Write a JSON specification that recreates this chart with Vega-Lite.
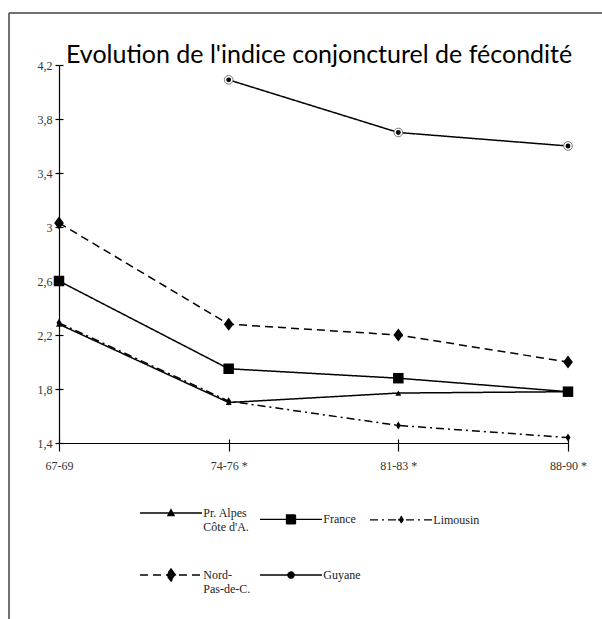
{
  "$schema": "https://vega.github.io/schema/vega-lite/v6.json",
  "width": 593,
  "height": 606,
  "autosize": {"type": "none"},
  "padding": {"left": 9, "top": 13, "right": 0, "bottom": 0},
  "background": "white",
  "config": {
    "view": {"stroke": "#444", "strokeWidth": 1.5, "strokeDash": [593, 1199, 606, 0]},
    "axis": {"grid": false, "title": null, "labelFont": "Liberation Serif", "labelFontSize": 12, "labelColor": "#333", "domainColor": "#000", "tickColor": "#000", "domainWidth": 1.2, "tickWidth": 1.2}
  },
  "title": {"text": "Evolution de l'indice conjoncturel de fécondité", "anchor": "start", "frame": "group", "orient": "top", "offset": -75, "baseline": "alphabetic", "dx": 57, "font": "Lato", "fontSize": 25, "fontWeight": "normal", "color": "#000"},
  "data": {"values": [
    {"p": "67-69", "r": "Pr. Alpes|Côte d'A.", "v": 2.28},
    {"p": "74-76 *", "r": "Pr. Alpes|Côte d'A.", "v": 1.70},
    {"p": "81-83 *", "r": "Pr. Alpes|Côte d'A.", "v": 1.77},
    {"p": "88-90 *", "r": "Pr. Alpes|Côte d'A.", "v": 1.78},
    {"p": "67-69", "r": "France", "v": 2.60},
    {"p": "74-76 *", "r": "France", "v": 1.95},
    {"p": "81-83 *", "r": "France", "v": 1.88},
    {"p": "88-90 *", "r": "France", "v": 1.78},
    {"p": "67-69", "r": "Limousin", "v": 2.29},
    {"p": "74-76 *", "r": "Limousin", "v": 1.71},
    {"p": "81-83 *", "r": "Limousin", "v": 1.53},
    {"p": "88-90 *", "r": "Limousin", "v": 1.44},
    {"p": "67-69", "r": "Nord-|Pas-de-C.", "v": 3.03},
    {"p": "74-76 *", "r": "Nord-|Pas-de-C.", "v": 2.28},
    {"p": "81-83 *", "r": "Nord-|Pas-de-C.", "v": 2.20},
    {"p": "88-90 *", "r": "Nord-|Pas-de-C.", "v": 2.00},
    {"p": "74-76 *", "r": "Guyane", "v": 4.09},
    {"p": "81-83 *", "r": "Guyane", "v": 3.70},
    {"p": "88-90 *", "r": "Guyane", "v": 3.60}
  ]},
  "resolve": {"axis": {"x": "independent", "y": "independent"}},
  "layer": [
    {
      "mark": {"type": "line", "color": "#000", "strokeWidth": 1.5},
      "encoding": {
        "x": {"field": "p", "type": "ordinal", "sort": null,
              "scale": {"type": "point", "domain": ["67-69", "74-76 *", "81-83 *", "88-90 *"], "range": [50, 559], "padding": 0},
              "axis": {"orient": "bottom", "offset": -176, "tickSize": 8, "labelPadding": 9, "labelAngle": 0}},
        "y": {"field": "v", "type": "quantitative",
              "scale": {"domain": [1.4, 4.2], "range": [430, 52], "zero": false, "nice": false},
              "axis": {"orient": "left", "offset": -50, "tickSize": 4, "labelPadding": 3, "values": [1.4, 1.8, 2.2, 2.6, 3, 3.4, 3.8, 4.2], "labelExpr": "replace(format(datum.value, '.1~f'), '.', ',')"}},
        "detail": {"field": "r"},
        "strokeDash": {"field": "r", "type": "nominal",
              "scale": {"domain": ["Pr. Alpes|Côte d'A.", "France", "Limousin", "Nord-|Pas-de-C.", "Guyane"], "range": [[1, 0], [1, 0], [8, 4, 2, 4], [8, 5], [1, 0]]}}
      }
    },
    {
      "transform": [{"filter": "datum.r == \"Pr. Alpes|Côte d'A.\""}],
      "mark": {"type": "point", "shape": "triangle-up", "size": 36, "filled": true, "color": "#000", "opacity": 1},
      "encoding": {
        "x": {"field": "p", "type": "ordinal", "axis": {"orient": "top", "offset": -430, "tickSize": 4, "labels": false, "domain": false}},
        "y": {"field": "v", "type": "quantitative", "axis": {"orient": "right", "offset": -543, "tickSize": 4, "labels": false, "domain": false, "values": [1.4, 1.8, 2.2, 2.6, 3, 3.4, 3.8, 4.2]}}
      }
    },
    {
      "transform": [{"filter": "datum.r == 'France'"}],
      "mark": {"type": "point", "shape": "square", "size": 110, "filled": true, "color": "#000", "opacity": 1},
      "encoding": {
        "x": {"field": "p", "type": "ordinal", "axis": null},
        "y": {"field": "v", "type": "quantitative", "axis": null}
      }
    },
    {
      "transform": [{"filter": "datum.r == 'Limousin'"}],
      "mark": {"type": "point", "shape": "M0,-1L0.62,0L0,1L-0.62,0Z", "size": 64, "filled": true, "color": "#000", "opacity": 1},
      "encoding": {
        "x": {"field": "p", "type": "ordinal", "axis": null},
        "y": {"field": "v", "type": "quantitative", "axis": null}
      }
    },
    {
      "transform": [{"filter": "datum.r == 'Nord-|Pas-de-C.'"}],
      "mark": {"type": "point", "shape": "M0,-1L0.75,0L0,1L-0.75,0Z", "size": 169, "filled": true, "color": "#000", "opacity": 1},
      "encoding": {
        "x": {"field": "p", "type": "ordinal", "axis": null},
        "y": {"field": "v", "type": "quantitative", "axis": null}
      }
    },
    {
      "transform": [{"filter": "datum.r == 'Guyane'"}],
      "mark": {"type": "point", "shape": "circle", "size": 75, "filled": true, "fill": "#fff", "stroke": "#777", "strokeWidth": 1, "opacity": 1},
      "encoding": {
        "x": {"field": "p", "type": "ordinal", "axis": null},
        "y": {"field": "v", "type": "quantitative", "axis": null}
      }
    },
    {
      "transform": [{"filter": "datum.r == 'Guyane'"}],
      "mark": {"type": "point", "shape": "circle", "size": 24, "filled": true, "color": "#000", "opacity": 1},
      "encoding": {
        "x": {"field": "p", "type": "ordinal", "axis": null},
        "y": {"field": "v", "type": "quantitative", "axis": null}
      }
    },
    {
      "transform": [{"filter": "false"}],
      "mark": {"type": "point", "filled": true, "color": "#000", "stroke": "#000", "strokeWidth": 1.3},
      "encoding": {
        "x": {"field": "p", "type": "ordinal", "axis": null},
        "y": {"field": "v", "type": "quantitative", "axis": null},
        "shape": {"field": "r", "type": "nominal",
          "scale": {"domain": ["Pr. Alpes|Côte d'A.", "France", "Limousin", "Nord-|Pas-de-C.", "Guyane"],
                    "range": ["M-3.1,0H3.1M0,-0.34L0.31,0.25H-0.31Z", "M-3.1,0H3.1M-0.45,-0.45H0.45V0.45H-0.45Z", "M-3.1,0H3.1M0,-0.37L0.22,0L0,0.37L-0.22,0Z", "M-3.1,0H3.1M0,-0.62L0.45,0L0,0.62L-0.45,0Z", "M-3.1,0H3.1M-0.31,0A0.31,0.31 0 1,0 0.31,0A0.31,0.31 0 1,0 -0.31,0Z"]},
          "legend": {"orient": "none", "legendX": 151, "legendY": 489, "direction": "horizontal", "columns": 3, "title": null,
                     "symbolSize": 400, "symbolStrokeWidth": 1.3, "symbolStrokeColor": "#000", "symbolFillColor": "#000", "symbolOpacity": 1,
                     "labelFont": "Liberation Serif", "labelFontSize": 12, "labelColor": "#222", "labelOffset": 21.3, "labelBaseline": "middle",
                     "columnPadding": 6, "rowPadding": 31, "labelExpr": "split(datum.label, '|')", "labelLimit": 200, "padding": 0,
                     "encode": {"symbols": {"update": {"opacity": {"value": 1}}}, "labels": {"update": {"lineHeight": {"value": 14}}}}}},
        "strokeDash": {"field": "r", "type": "nominal"}
      }
    }
  ]
}
